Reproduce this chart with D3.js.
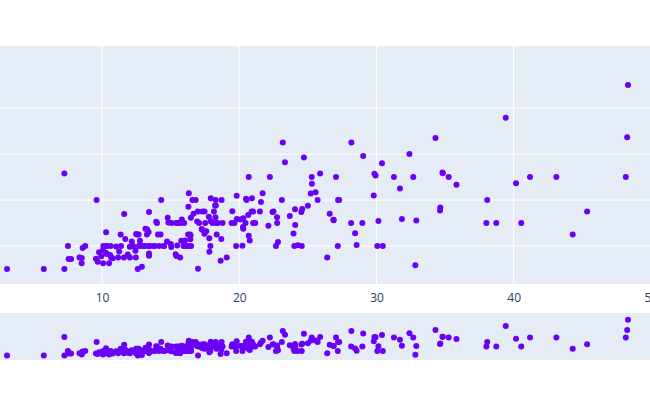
<!DOCTYPE html>
<html>
<head>
<meta charset="utf-8">
<script src="https://cdn.jsdelivr.net/npm/d3@7"></script>
<style>
  body { margin: 0; background: #fff; }
  svg { font-family: "Open Sans", "Noto Sans", sans-serif; }
</style>
</head>
<body>
<div id="chart"></div>
<script>
const width = 650;
const height = 400;

// total bill and tip for each table
const totalBill = [16.99,10.34,21.01,23.68,24.59,25.29,8.77,26.88,15.04,14.78,10.27,35.26,15.42,18.43,14.83,21.58,10.33,16.29,16.97,20.65,
  17.92,20.29,15.77,39.42,19.82,17.81,13.37,12.69,21.7,19.65,9.55,18.35,15.06,20.69,17.78,24.06,16.31,16.93,18.69,31.27,
  16.04,17.46,13.94,9.68,30.4,18.29,22.23,32.4,28.55,18.04,12.54,10.29,34.81,9.94,25.56,19.49,38.01,26.41,11.24,48.27,
  20.29,13.81,11.02,18.29,17.59,20.08,16.45,3.07,20.23,15.01,12.02,17.07,26.86,25.28,14.73,10.51,17.92,27.2,22.76,17.29,
  19.44,16.66,10.07,32.68,15.98,34.83,13.03,18.28,24.71,21.16,28.97,22.49,5.75,16.32,22.75,40.17,27.28,12.03,21.01,12.46,
  11.35,15.38,44.3,22.42,20.92,15.36,20.49,25.21,18.24,14.31,14.0,7.25,38.07,23.95,25.71,17.31,29.93,10.65,12.43,24.08,
  11.69,13.42,14.26,15.95,12.48,29.8,8.52,14.52,11.38,22.82,19.08,20.27,11.17,12.26,18.26,8.51,10.33,14.15,16.0,13.16,
  17.47,34.3,41.19,27.05,16.43,8.35,18.64,11.87,9.78,7.51,14.07,13.13,17.26,24.55,19.77,29.85,48.17,25.0,13.39,16.49,
  21.5,12.66,16.21,13.81,17.51,24.52,20.76,31.71,10.59,10.63,50.81,15.81,7.25,31.85,16.82,32.9,17.89,14.48,9.6,34.63,
  34.65,23.33,45.35,23.17,40.55,20.69,20.9,30.46,18.15,23.1,15.69,19.81,28.44,15.48,16.58,7.56,10.34,43.11,13.0,13.51,
  18.71,12.74,13.0,16.4,20.53,16.47,26.59,38.73,24.27,12.76,30.06,25.89,48.33,13.27,28.17,12.9,28.15,11.59,7.74,30.14,
  12.16,13.42,8.58,15.98,13.42,16.27,10.09,20.45,13.28,22.12,24.01,15.69,11.61,10.77,15.53,10.07,12.6,32.83,35.83,29.03,
  27.18,22.67,17.82,18.78];
const tip = [1.01,1.66,3.5,3.31,3.61,4.71,2.0,3.12,1.96,3.23,1.71,5.0,1.57,3.0,3.02,3.92,1.67,3.71,3.5,3.35,
  4.08,2.75,2.23,7.58,3.18,2.34,2.0,2.0,4.3,3.0,1.45,2.5,3.0,2.45,3.27,3.6,2.0,3.07,2.31,5.0,
  2.24,2.54,3.06,1.32,5.6,3.0,5.0,6.0,2.05,3.0,2.5,2.6,5.2,1.56,4.34,3.51,3.0,1.5,1.76,6.73,
  3.21,2.0,1.98,3.76,2.64,3.15,2.47,1.0,2.01,2.09,1.97,3.0,3.14,5.0,2.2,1.25,3.08,4.0,3.0,2.71,
  3.0,3.4,1.83,5.0,2.03,5.17,2.0,4.0,5.85,3.0,3.0,3.5,1.0,4.3,3.25,4.73,4.0,1.5,3.0,1.5,
  2.5,3.0,2.5,3.48,4.08,1.64,4.06,4.29,3.76,4.0,3.0,1.0,4.0,2.55,4.0,3.5,5.07,1.5,1.8,2.92,
  2.31,1.68,2.5,2.0,2.52,4.2,1.48,2.0,2.0,2.18,1.5,2.83,1.5,2.0,3.25,1.25,2.0,2.0,2.0,2.75,
  3.5,6.7,5.0,5.0,2.3,1.5,1.36,1.63,1.73,2.0,2.5,2.0,2.74,2.0,2.0,5.14,5.0,3.75,2.61,2.0,
  3.5,2.5,2.0,2.0,3.0,3.48,2.24,4.5,1.61,2.0,10.0,3.16,5.15,3.18,4.0,3.11,2.0,2.0,4.0,3.55,
  3.68,5.65,3.5,6.5,3.0,5.0,3.5,2.0,3.5,4.0,1.5,4.19,2.56,2.02,4.0,1.44,2.0,5.0,2.0,2.0,
  4.0,2.01,2.0,2.5,4.0,3.23,3.41,3.0,2.03,2.23,2.0,5.16,9.0,2.5,6.5,1.1,3.0,1.5,1.44,3.09,
  2.2,3.48,1.92,3.0,1.58,2.5,2.0,3.0,2.72,2.88,2.0,3.0,3.39,1.47,3.0,1.25,1.0,1.17,4.67,5.92,
  2.0,2.0,1.75,3.0];
const xTicks = [10, 20, 30, 40, 50];
const yTicks = [2, 4, 6, 8];

const data = totalBill.map((b, i) => ({bill: b, tip: tip[i]}));

const main = {top: 46, bottom: 284};
const strip = {top: 313, bottom: 360};
const color = "#6a00f5";

const svg = d3.select("#chart").append("svg")
  .attr("width", width)
  .attr("height", height);

// x scale runs past the visible window on both sides
const x = d3.scaleLinear().domain([0, 50]).range([-35.1, 650.9]);
const y = d3.scaleLinear().domain([0.35, 10.7]).range([main.bottom, main.top]);
const y2 = d3.scaleLinear().domain([0, 10.5]).range([strip.bottom, strip.top]);

// backgrounds
svg.append("rect").attr("x", 0).attr("y", main.top)
  .attr("width", width).attr("height", main.bottom - main.top).attr("fill", "#e5ecf6");
svg.append("rect").attr("x", 0).attr("y", strip.top)
  .attr("width", width).attr("height", strip.bottom - strip.top).attr("fill", "#e5ecf6");

// grid lines
svg.append("g").selectAll("line").data(xTicks).join("line")
  .attr("x1", d => x(d)).attr("x2", d => x(d))
  .attr("y1", main.top).attr("y2", main.bottom)
  .attr("stroke", "#fff").attr("stroke-width", 1);
svg.append("g").selectAll("line").data(yTicks).join("line")
  .attr("x1", 0).attr("x2", width)
  .attr("y1", d => y(d)).attr("y2", d => y(d))
  .attr("stroke", "#fff").attr("stroke-width", 1);

// x axis labels
svg.append("g")
  .attr("transform", `translate(0,${main.bottom + 3})`)
  .call(d3.axisBottom(x).tickValues(xTicks).tickSize(0).tickPadding(6))
  .call(g => g.select(".domain").remove())
  .call(g => g.selectAll("text").attr("fill", "#2a3f5f").attr("font-size", 12)
    .attr("font-family", "'Open Sans', sans-serif"));

// points
svg.append("g").selectAll("circle").data(data).join("circle")
  .attr("cx", d => x(d.bill)).attr("cy", d => y(d.tip))
  .attr("r", 3).attr("fill", color);

svg.append("clipPath").attr("id", "stripclip").append("rect")
  .attr("x", 0).attr("y", strip.top).attr("width", width).attr("height", strip.bottom - strip.top);
svg.append("g").attr("clip-path", "url(#stripclip)")
  .selectAll("circle").data(data).join("circle")
  .attr("cx", d => x(d.bill)).attr("cy", d => y2(d.tip))
  .attr("r", 3).attr("fill", color);
</script>
</body>
</html>
